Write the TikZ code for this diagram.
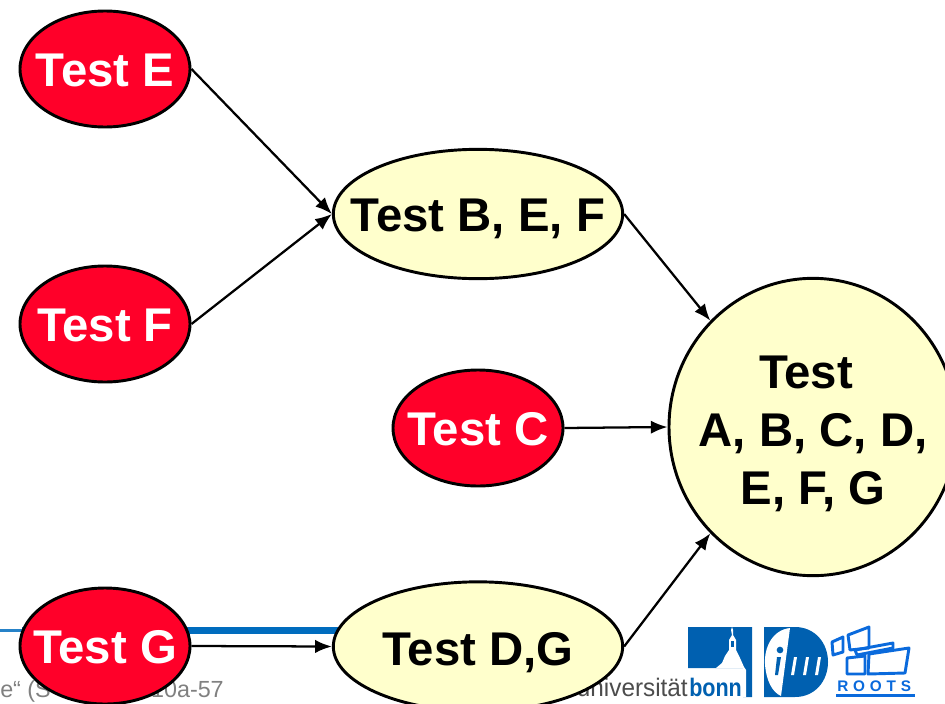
\documentclass[tikz,border=0pt]{standalone}
\usepackage{fontspec}
\usepackage{graphicx}
\setmainfont{Liberation Sans}
\usetikzlibrary{shapes.geometric,arrows.meta}
\definecolor{testred}{HTML}{FF0029}
\definecolor{testcream}{HTML}{FFFFCC}
\definecolor{barblue}{HTML}{006CBE}
\definecolor{bonnblue}{HTML}{0060B0}
\definecolor{rootsblue}{HTML}{0A6ADC}
\definecolor{footgray}{HTML}{808080}
\newcommand{\zerobox}[2][-10.8pt]{\makebox[0pt]{\raisebox{#1}[0pt][0pt]{\begin{tabular}[c]{@{}c@{}}#2\end{tabular}}}}
\tikzset{
  x=0.75pt,y=-0.75pt,
  testbase/.style={ellipse,draw=black,line width=2.2pt,inner sep=0pt,font=\fontsize{35.5}{43.5}\selectfont\bfseries},
  redtest/.style={testbase,fill=testred,text=white,minimum width=127.5pt,minimum height=87pt},
  mergetest/.style={testbase,fill=testcream,text=black,minimum width=217pt,minimum height=97pt},
  bigtest/.style={testbase,fill=testcream,text=black,minimum width=216pt,minimum height=223pt},
  link/.style={draw=black,line width=1.7pt,-{Latex[length=12.5pt,width=10pt]}},
  footer/.style={text=footgray,font=\fontsize{17.5}{20}\selectfont,inner sep=0pt,anchor=base west},
  rootsline/.style={draw=rootsblue,line width=2.2pt,line join=round},
}
\begin{document}
\begin{tikzpicture}
\useasboundingbox (0,0) rectangle (945,703);
\clip (0,0) rectangle (945,703);
% footer rule
\fill[barblue] (22,627) rectangle (340,634);
\fill[barblue!85] (0,629) rectangle (22,632);
% footer text
\node[footer] (fa) at (0,697) {e“ (S};
\node[footer,anchor=base east] (fb) at (224,697) {10a-57};
\node[inner sep=0pt,anchor=base east,text=black!70,font=\fontsize{19}{23}\selectfont] (uni) at (688,696) {\scalebox{0.96}[1]{universität}};
\node[inner sep=0pt,anchor=base west,text=bonnblue,font=\fontsize{19}{23}\selectfont\bfseries] (bonn) at (689,696) {\scalebox{0.85}[1]{bonn}};
% bonn logo
\fill[bonnblue] (688,627) -- (752,627) -- (752,697) -- (743,697) -- (743,668) -- (715,668) -- (688,668) -- cycle;
\fill[white] (716,668) -- (722,663) -- (725,656) -- (729,650) -- (729,640) -- (732,635) -- (731,630) -- (732,627) -- (733,630) -- (733,635) -- (736,640) -- (736,650) -- (740,658) -- (744,667) -- (746,670) -- (746,697) -- (743,697) -- (743,668) -- cycle;
\fill[bonnblue] (731,641) rectangle (734,647);
% iii logo
\fill[bonnblue] (764,627) -- (795,627) .. controls (815,627) and (828,643) .. (828,662) .. controls (828,681) and (815,697) .. (795,697) -- (764,697) -- cycle;
\fill[white] (790,628) .. controls (772,630) and (764,648) .. (765,664) .. controls (766,680) and (772,692) .. (781,696) -- cycle;
\fill[bonnblue] (777,657) -- (781,657) -- (778,675) -- (775,675) -- cycle;
\fill[bonnblue] (780,650) circle[radius=2.5pt];
\fill[white] (794,657) -- (797,657) -- (794,675) -- (791,675) -- cycle;
\fill[white] (806,657) -- (809,657) -- (806,675) -- (803,675) -- cycle;
\fill[white] (818,657) -- (821,657) -- (818,675) -- (815,675) -- cycle;
% roots logo
\draw[rootsline] (832,642) -- (843,637) -- (843,652) -- (833,655) -- cycle;
\draw[rootsline] (848,635) -- (869,627) -- (869,648) -- (850,650) -- cycle;
\draw[rootsline] (855,650) -- (893,643) -- (893,648) -- (857,655) -- cycle;
\draw[rootsline] (847,658) -- (865,656) -- (865,674) -- (847,674) -- cycle;
\draw[rootsline] (869,654) -- (909,648) -- (905,673) -- (868,674) -- cycle;
\node[inner sep=0pt,anchor=base west,text=rootsblue,font=\fontsize{11.5}{14}\selectfont\bfseries] (roots) at (837,691) {R\hspace{3.6pt}O\hspace{3.6pt}O\hspace{3.6pt}T\hspace{3.6pt}S};
\fill[rootsblue] (836,694) rectangle (915,697);
% tests
\node[redtest] (e) at (105,69) {\zerobox{Test E}};
\node[redtest] (f) at (105,324) {\zerobox{Test F}};
\node[redtest] (c) at (478,428) {\zerobox{Test C}};
\node[redtest] (g) at (105,646) {\zerobox{Test G}};
\node[mergetest] (bef) at (478,214) {\zerobox{Test B, E, F}};
\node[mergetest] (dg) at (478,646.5) {\zerobox[-11.5pt]{Test D,G}};
\node[bigtest] (all) at (813,427) {\zerobox[-12pt]{Test\hspace{10.5pt}\mbox{}\\A, B, C, D,\\E, F, G}};
% connectors
\draw[link] (e.east) -- (bef.west);
\draw[link] (f.east) -- (bef.west);
\draw[link] (g.east) -- (dg.west);
\draw[link] (bef.east) -- (all.134);
\draw[link] (c.east) -- (all.west);
\draw[link] (dg.east) -- (all.226);
\end{tikzpicture}
\end{document}
